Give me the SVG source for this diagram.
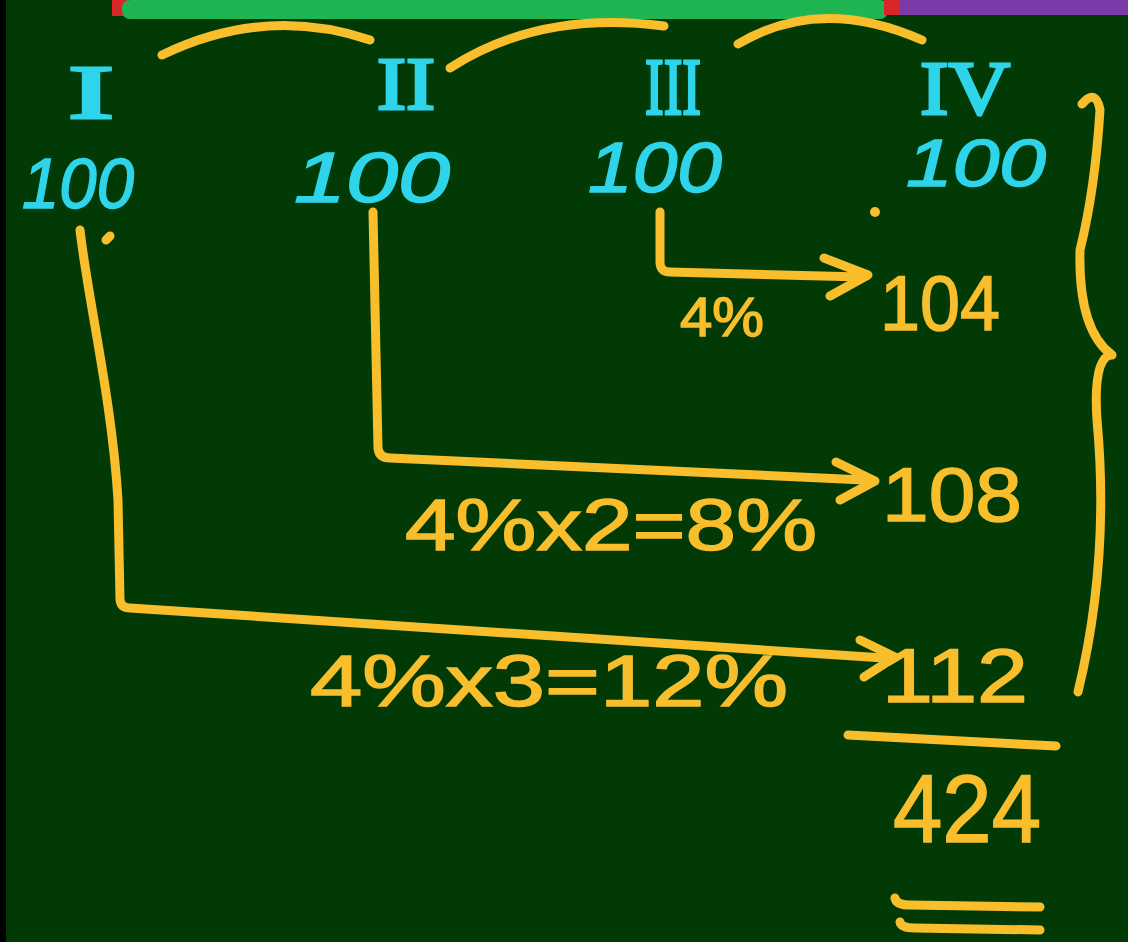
<svg xmlns="http://www.w3.org/2000/svg" width="1128" height="942" viewBox="0 0 1128 942">
<defs>
<style>
.bg{fill:#023a06}
.rom{fill:#2ed5ea;stroke:#2ed5ea;stroke-width:3;font-family:"Liberation Serif",serif}
.num{fill:#2ed5ea;stroke:#2ed5ea;stroke-width:1.5;font-family:"Liberation Sans","Noto Sans",sans-serif;font-style:italic}
.ylw{fill:#f8be2c;stroke:#f8be2c;stroke-width:1.5;font-family:"Liberation Sans","Noto Sans",sans-serif}
.ln{fill:none;stroke:#f8be2c;stroke-width:9;stroke-linecap:round;stroke-linejoin:round}
</style>
</defs>
<rect class="bg" x="0" y="0" width="1128" height="942"/>
<rect x="0" y="0" width="6" height="942" fill="#000"/>
<g id="topbar">
<rect x="112" y="0" width="16" height="16" fill="#d8262a"/>
<rect x="122" y="0" width="766" height="19" rx="8" fill="#1fb552"/>
<rect x="884" y="0" width="20" height="15" fill="#d8262a"/>
<rect x="900" y="0" width="228" height="15" fill="#7a3aa8"/>
</g>
<g id="arcs">
<path class="ln" d="M162 55 Q265 5 370 40"/>
<path class="ln" d="M450 68 Q540 10 664 26"/>
<path class="ln" d="M738 44 Q820 -5 922 40"/>
</g>
<g id="col1">
<text class="rom" x="68" y="118" font-size="76" textLength="46" lengthAdjust="spacingAndGlyphs">I</text>
<text class="num" x="22" y="208" font-size="70" textLength="112" lengthAdjust="spacingAndGlyphs">100</text>
</g>
<g id="col2">
<text class="rom" x="377" y="109" font-size="74" textLength="58" lengthAdjust="spacingAndGlyphs">II</text>
<text class="num" x="294" y="202" font-size="70" textLength="156" lengthAdjust="spacingAndGlyphs">100</text>
</g>
<g id="col3">
<text class="rom" x="645" y="114" font-size="80" textLength="56" lengthAdjust="spacingAndGlyphs">III</text>
<text class="num" x="588" y="192" font-size="70" textLength="134" lengthAdjust="spacingAndGlyphs">100</text>
</g>
<g id="col4">
<text class="rom" x="920" y="114" font-size="76" textLength="90" lengthAdjust="spacingAndGlyphs">IV</text>
<text class="num" x="906" y="186" font-size="66" textLength="140" lengthAdjust="spacingAndGlyphs">100</text>
</g>
<g id="connectors">
<path class="ln" d="M80 230 C88 300 112 400 118 500 L120 600 Q121 608 130 608 L884 658"/>
<path class="ln" d="M860 640 L895 657 L864 677"/>
<path class="ln" d="M373 212 L378 448 Q379 458 390 458 L864 480"/>
<path class="ln" d="M836 462 L875 481 L840 500"/>
<path class="ln" d="M660 212 L660 262 Q660 272 670 272 L862 277"/>
<path class="ln" d="M824 258 L868 275 L830 296"/>
<path class="ln" d="M106 240 L110 236"/>
<circle cx="875" cy="212" r="5" fill="#f8be2c"/>
</g>
<g id="brace">
<path class="ln" d="M1082 104 Q1096 88 1100 110 Q1095 190 1080 250 Q1078 330 1112 355"/>
<path class="ln" d="M1110 355 Q1093 360 1097 420 Q1110 560 1078 692"/>
</g>
<g id="res1">
<text class="ylw" x="680" y="336" font-size="56" textLength="84" lengthAdjust="spacingAndGlyphs">4%</text>
<text class="ylw" x="880" y="330" font-size="78" textLength="120" lengthAdjust="spacingAndGlyphs">104</text>
</g>
<g id="res2">
<text class="ylw" x="405" y="550" font-size="72" textLength="412" lengthAdjust="spacingAndGlyphs">4%x2=8%</text>
<text class="ylw" x="882" y="521" font-size="76" textLength="140" lengthAdjust="spacingAndGlyphs">108</text>
</g>
<g id="res3">
<text class="ylw" x="310" y="706" font-size="72" textLength="478" lengthAdjust="spacingAndGlyphs">4%x3=12%</text>
<text class="ylw" x="882" y="702" font-size="76" textLength="146" lengthAdjust="spacingAndGlyphs">112</text>
</g>
<g id="total">
<path class="ln" d="M848 735 L1056 746"/>
<text class="ylw" x="893" y="842" font-size="96" textLength="148" lengthAdjust="spacingAndGlyphs">424</text>
<path class="ln" d="M895 898 Q896 905 910 905 L1040 907"/>
<path class="ln" d="M900 922 Q901 928 915 928 L1040 930"/>
</g>
</svg>
